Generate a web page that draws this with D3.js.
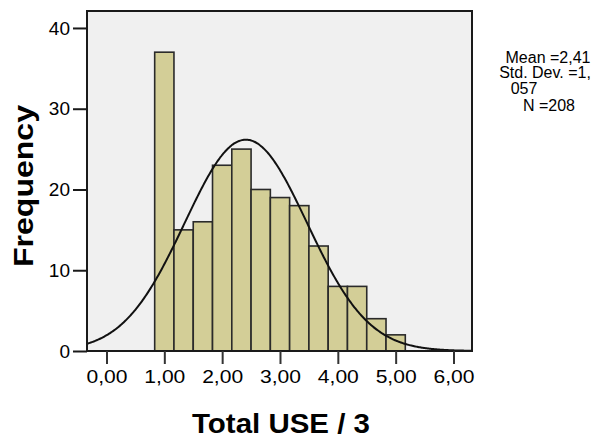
<!DOCTYPE html>
<html>
<head>
<meta charset="utf-8">
<script src="https://cdn.jsdelivr.net/npm/d3@7"></script>
<style>
  html, body { margin: 0; padding: 0; background: #ffffff; }
  svg { display: block; }
  text { font-family: "Liberation Sans", Arial, sans-serif; fill: #000; }
</style>
</head>
<body>
<svg id="chart" width="608" height="441"></svg>
<script>
// Histogram of Total USE / 3 with a fitted normal curve
const binWidth = 1 / 3;
const binCenters = [1, 4/3, 5/3, 2, 7/3, 8/3, 3, 10/3, 11/3, 4, 13/3, 14/3, 5];
const counts = [37, 15, 16, 23, 25, 20, 19, 18, 13, 8, 8, 4, 2];
const xTickValues = [0, 1, 2, 3, 4, 5, 6];
const xTickLabels = ["0,00", "1,00", "2,00", "3,00", "4,00", "5,00", "6,00"];
const yTickValues = [0, 10, 20, 30, 40];
const statsLines = ["Mean =2,41", "Std. Dev. =1,", "057", "N =208"];
const mean = 2.41, stdDev = 1.057, nObs = 208;

const svg = d3.select("#chart");
const plotLeft = 87, plotRight = 472, plotTop = 11, plotBottom = 351;

const x = d3.scaleLinear().domain([-0.337, 6.32]).range([plotLeft, plotRight]);
const y = d3.scaleLinear().domain([0, 42.1]).range([plotBottom, plotTop]);

// plot background
svg.append("rect")
  .attr("x", plotLeft).attr("y", plotTop)
  .attr("width", plotRight - plotLeft).attr("height", plotBottom - plotTop)
  .attr("fill", "#f0f0f0");

// bars
svg.append("g").selectAll("rect")
  .data(binCenters.map((c, i) => ({ c, n: counts[i] })))
  .join("rect")
  .attr("x", d => x(d.c - binWidth / 2))
  .attr("y", d => y(d.n))
  .attr("width", d => x(d.c + binWidth / 2) - x(d.c - binWidth / 2))
  .attr("height", d => y(0) - y(d.n))
  .attr("fill", "#d3ce97")
  .attr("stroke", "#2a2a2a")
  .attr("stroke-width", 1.6);

// normal curve scaled to counts
const scale = nObs * binWidth / (stdDev * Math.sqrt(2 * Math.PI));
const curvePts = d3.range(0, 401).map(i => {
  const xv = -0.337 + (6.32 + 0.337) * i / 400;
  const z = (xv - mean) / stdDev;
  return [xv, scale * Math.exp(-0.5 * z * z)];
});
svg.append("path")
  .datum(curvePts)
  .attr("fill", "none")
  .attr("stroke", "#111")
  .attr("stroke-width", 2)
  .attr("d", d3.line().x(d => x(d[0])).y(d => y(d[1])).curve(d3.curveBasis));

// frame
svg.append("rect")
  .attr("x", plotLeft).attr("y", plotTop)
  .attr("width", plotRight - plotLeft).attr("height", plotBottom - plotTop)
  .attr("fill", "none")
  .attr("stroke", "#1a1a1a")
  .attr("stroke-width", 2);

// y axis
const yAxis = d3.axisLeft(y).tickValues(yTickValues).tickSize(14).tickPadding(3).tickFormat(d3.format("d"));
const gy = svg.append("g").attr("transform", `translate(${plotLeft},0)`).call(yAxis);
gy.select(".domain").remove();
gy.selectAll(".tick line").attr("stroke", "#1a1a1a").attr("stroke-width", 2);
gy.selectAll(".tick text").attr("font-size", 19).attr("font-family", "Liberation Sans, Arial, sans-serif").attr("fill", "#111");

// x axis
const xAxis = d3.axisBottom(x).tickValues(xTickValues).tickSize(13).tickPadding(6)
  .tickFormat((d, i) => xTickLabels[i]);
const gx = svg.append("g").attr("transform", `translate(0,${plotBottom})`).call(xAxis);
gx.select(".domain").remove();
gx.selectAll(".tick line").attr("stroke", "#333").attr("stroke-width", 2);
gx.selectAll(".tick text").attr("font-size", 19).attr("font-family", "Liberation Sans, Arial, sans-serif").attr("fill", "#111")
  .attr("textLength", 41).attr("lengthAdjust", "spacingAndGlyphs");

// axis titles
svg.append("text")
  .attr("transform", "translate(33,186) rotate(-90)")
  .attr("text-anchor", "middle")
  .attr("font-size", 27).attr("font-weight", "bold")
  .attr("textLength", 162).attr("lengthAdjust", "spacingAndGlyphs")
  .text("Frequency");

svg.append("text")
  .attr("x", 281).attr("y", 433)
  .attr("text-anchor", "middle")
  .attr("font-size", 27).attr("font-weight", "bold")
  .attr("textLength", 178).attr("lengthAdjust", "spacingAndGlyphs")
  .text("Total USE / 3");

// summary statistics
const statsX = [548, 545, 524, 549];
const statsY = [62.5, 78, 94, 110.5];
svg.append("g").selectAll("text")
  .data(statsLines)
  .join("text")
  .attr("x", (d, i) => statsX[i])
  .attr("y", (d, i) => statsY[i])
  .attr("text-anchor", "middle")
  .attr("font-size", 16)
  .text(d => d);
</script>
</body>
</html>
